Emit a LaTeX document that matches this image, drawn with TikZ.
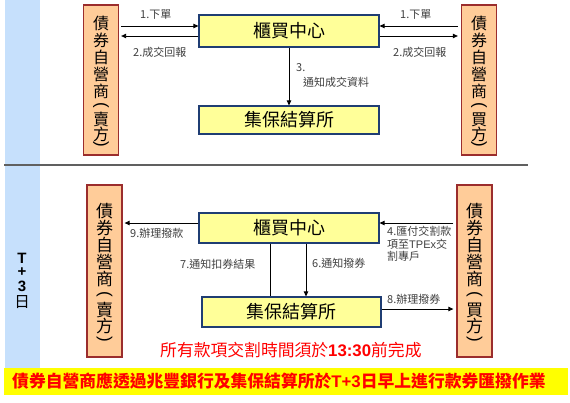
\documentclass[tikz,border=0pt]{standalone}
\usepackage{fontspec}
\setmainfont{Noto Sans CJK TC}
\newfontfamily\lat{Liberation Sans}
\usetikzlibrary{arrows.meta}
\definecolor{bandblue}{HTML}{C6E0FC}
\definecolor{peach}{HTML}{FFCC99}
\definecolor{partyborder}{HTML}{9B2D2D}
\definecolor{hubfill}{HTML}{FFFF99}
\definecolor{hubborder}{HTML}{1F3D73}
\definecolor{bannerfill}{HTML}{FFFF00}
\definecolor{sepgray}{HTML}{606060}
\definecolor{labgray}{HTML}{404040}
\tikzset{
  party/.style={draw=partyborder, fill=peach, line width=1.3pt, minimum width=35pt, inner sep=0pt},
  pch/.style={inner sep=0pt, font=\fontsize{17}{17}\selectfont},
  pchs/.style={inner sep=0pt, font=\fontsize{16}{16}\selectfont},
  pparen/.style={inner sep=0pt, rotate=-90, font=\lat\fontsize{17}{17}\selectfont},
  hub/.style={draw=hubborder, fill=hubfill, line width=1.2pt, minimum width=180pt, inner sep=0pt,
    font=\fontsize{18}{18}\selectfont},
  arr/.style={line width=0.9pt, -{Triangle[length=5pt,width=4.5pt]}},
  plain/.style={line width=0.9pt},
  lab/.style={anchor=west, inner sep=0pt, text=labgray, font=\fontsize{11}{12.5}\selectfont, align=left},
  tch/.style={inner sep=0pt, font=\lat\bfseries\fontsize{15}{15}\selectfont},
}
\begin{document}
\begin{tikzpicture}[x=1pt,y=-1pt]
\useasboundingbox (0,0) rectangle (570,402);
\fill[white] (0,0) rectangle (570,402);
% blue bands
\fill[bandblue] (5,0) rectangle (40,164);
\fill[bandblue] (5,166) rectangle (40,368);
\draw[sepgray, line width=2pt] (4,165) -- (528,165);

% ---------- top section ----------
\node[party, minimum height=150pt] (sT) at (101,80) {};
\node[party, minimum height=150pt] (bT) at (479,80) {};
\foreach \c/\yy [count=\i] in {債/23,券/40.5,自/57.5,營/74.5,商/91.5,賣/119.5,方/134.5}
  \node[pchs] (sT-\i) at (101,\yy) {\c};
\foreach \c/\yy [count=\i] in {債/23,券/40.5,自/57.5,營/74.5,商/91.5,買/119.5,方/134.5}
  \node[pchs] (bT-\i) at (479,\yy) {\c};
\node[pparen] (sT-po) at (101,105.5) {(};
\node[pparen] (sT-pc) at (101,144.5) {)};
\node[pparen] (bT-po) at (479,105.5) {(};
\node[pparen] (bT-pc) at (479,144.5) {)};
\node[hub, minimum height=32pt] (cT) at (289,31) {櫃買中心};
\node[hub, minimum height=28pt] (jT) at (289,120) {集保結算所};

\coordinate (p1) at ([yshift=5pt]cT.west);
\coordinate (p2) at ([yshift=-5pt]cT.west);
\coordinate (p3) at ([yshift=5pt]cT.east);
\coordinate (p4) at ([yshift=-5pt]cT.east);
\draw[arr] ([xshift=2pt]sT.east |- p1) -- (p1);
\draw[arr] (p2) -- ([xshift=2pt]sT.east |- p2);
\draw[arr] ([xshift=-3pt]bT.west |- p3) -- (p3);
\draw[arr] (p4) -- ([xshift=-3pt]bT.west |- p4);
\draw[arr] (cT.south) -- (jT.north);

\node[lab] (l1a) at (140,15) {1.下單};
\node[lab] (l2a) at (133,52) {2.成交回報};
\node[lab] (l1b) at (400,15) {1.下單};
\node[lab] (l2b) at (393,52) {2.成交回報};
\node[lab] (l3a) at (296,68) {3.};
\node[lab] (l3b) at (303,82) {通知成交資料};

% ---------- bottom section ----------
\node[tch] (tT) at (22,258) {T};
\node[tch] (tP) at (22,272.5) {+};
\node[tch] (t3) at (22,286) {3};
\node[inner sep=0pt, font=\fontsize{15.5}{15.5}\selectfont] (tD) at (22,302.5) {日};

\node[party, minimum height=172pt] (sB) at (104.5,271) {};
\node[party, minimum height=172pt] (bB) at (474.5,271) {};
\foreach \c/\yy [count=\i] in {債/211,券/228,自/245,營/262,商/279,賣/310.5,方/326}
  \node[pch] (sB-\i) at (104.5,\yy) {\c};
\foreach \c/\yy [count=\i] in {債/211,券/228,自/245,營/262,商/279,買/310.5,方/326}
  \node[pch] (bB-\i) at (474.5,\yy) {\c};
\node[pparen] (sB-po) at (104.5,294.5) {(};
\node[pparen] (sB-pc) at (104.5,339) {)};
\node[pparen] (bB-po) at (474.5,294.5) {(};
\node[pparen] (bB-pc) at (474.5,339) {)};
\node[hub, minimum height=30pt] (cB) at (289,228) {櫃買中心};
\node[hub, minimum width=179pt, minimum height=30pt] (jB) at (291.5,312) {集保結算所};

\coordinate (q9) at ([yshift=5pt]cB.west);
\coordinate (q4) at ([yshift=5pt]cB.east);
\coordinate (q8) at ([yshift=3pt]jB.east);
\coordinate (x7) at (270,0);
\coordinate (x6) at (306,0);
\draw[arr] (q9) -- ([xshift=2pt]sB.east |- q9);
\draw[arr] ([xshift=-3pt]bB.west |- q4) -- (q4);
\draw[plain] (cB.south -| x7) -- (jB.north -| x7);
\draw[arr] (cB.south -| x6) -- (jB.north -| x6);
\draw[arr] (q8) -- ([xshift=-3pt]bB.west |- q8);

\node[lab] (l9) at (130,233) {9.辦理撥款};
\node[lab] (l7) at (180,264) {7.通知扣券結果};
\node[lab] (l6) at (312,263) {6.通知撥券};
\node[lab, anchor=north west] (l4) at (387,226) {4.匯付交割款\\項至{\lat TPEx}交\\割專戶};
\node[lab] (l8) at (387,299) {8.辦理撥券};

\node[anchor=west, inner sep=0pt, text=red, font=\fontsize{16.8}{17}\selectfont] (note) at (160,350)
  {所有款項交割時間須於{\lat\bfseries 13:30}前完成};

% banner
\node[fill=bannerfill, minimum width=564pt, minimum height=27pt, inner sep=0pt] (banner) at (286,381.5) {};
\node[anchor=west, inner sep=0pt, text=red, font=\bfseries\fontsize{16.8}{17}\selectfont] (btext) at (12,381.5)
  {債券自營商應透過兆豐銀行及集保結算所於{\lat T+3}日早上進行款券匯撥作業};
\end{tikzpicture}
\end{document}
